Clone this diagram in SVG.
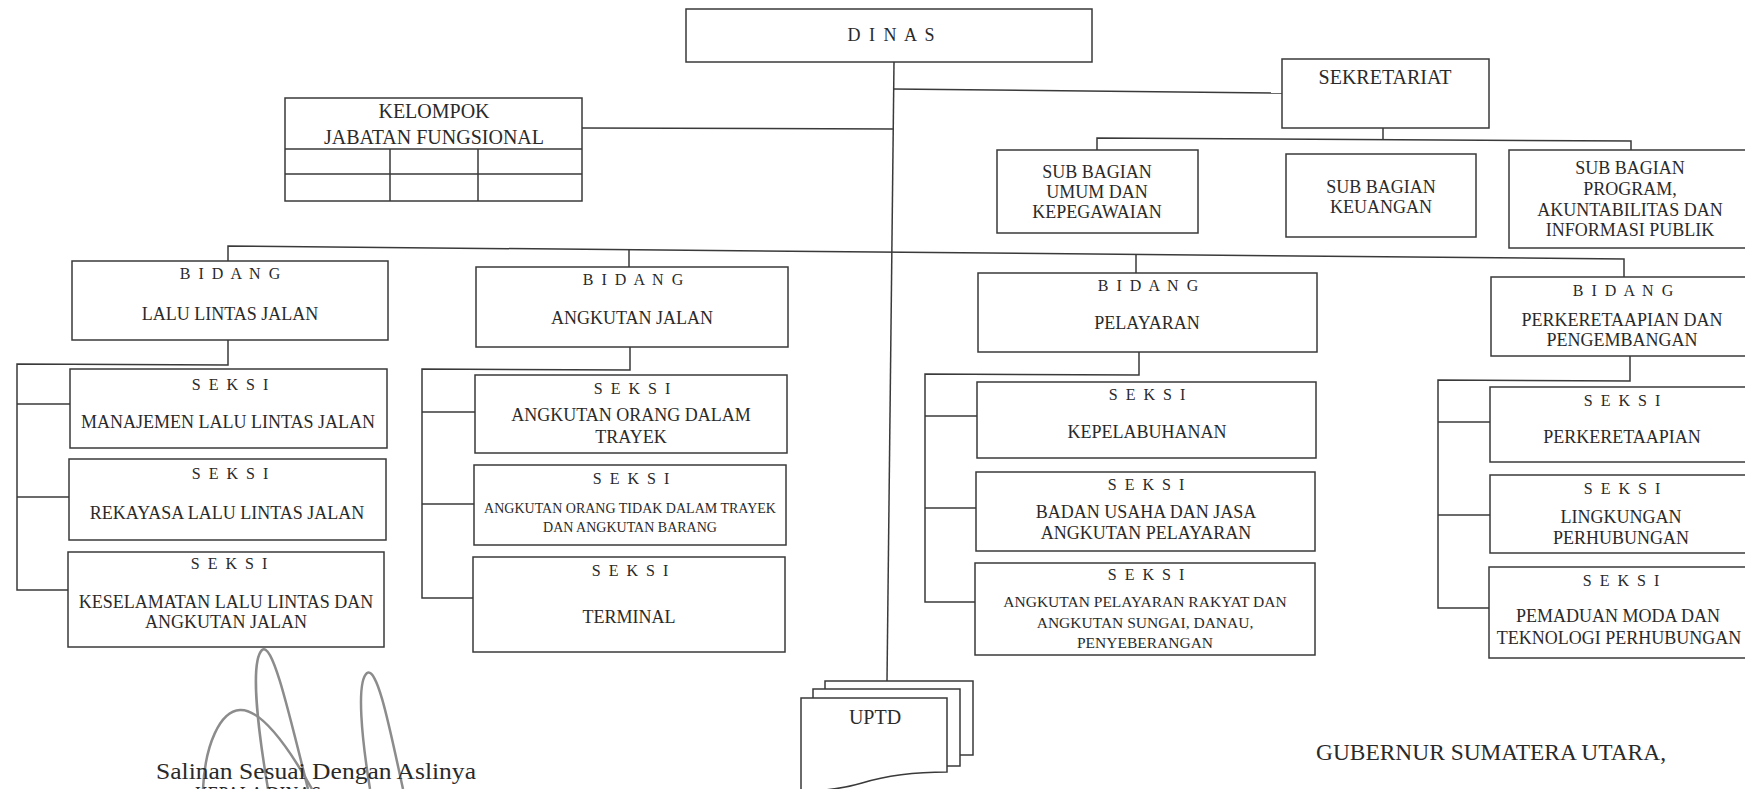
<svg xmlns="http://www.w3.org/2000/svg" width="1745" height="789" viewBox="0 0 1745 789">
<style>
.b{fill:#fff;stroke:#3a3a3a;stroke-width:1.5}
.c{fill:none;stroke:#3a3a3a;stroke-width:1.5}
.t{font-family:"Liberation Serif",serif;fill:#2a2a2a;text-anchor:middle;font-size:18px}
.s{font-size:16px;letter-spacing:2px}
.h{font-size:20px}
.sm{font-size:14px}
.md{font-size:15.5px}
.sig{fill:none;stroke:#8c8c8c;stroke-width:2.5}
.n{font-family:"Liberation Serif",serif;fill:#2a2a2a;font-size:23px}
</style>
<rect width="1745" height="789" fill="#fff"/>

<g id="connectors" class="c">
  <path d="M894,62 L887,681"/>
  <path d="M582,128 L893,129"/>
  <path d="M893,89 L1282,93"/>
  <path d="M1383,128 V140"/>
  <path d="M1097,150 V138 L1631,141 V150"/>
  <path d="M228,261 V246 L1624,259 V277"/>
  <path d="M629,249 V267"/>
  <path d="M1136,254 V273"/>
  <path d="M228,340 V365 L17,364 V590 H68"/>
  <path d="M17,404 H70"/>
  <path d="M17,497 H69"/>
  <path d="M630,347 V370 L422,369 V598 H473"/>
  <path d="M422,412 H475"/>
  <path d="M422,504 H474"/>
  <path d="M1139,352 V375 L925,374 V602 H975"/>
  <path d="M925,416 H977"/>
  <path d="M925,508 H976"/>
  <path d="M1630,356 V381 L1438,380 V608 H1489"/>
  <path d="M1438,422 H1490"/>
  <path d="M1438,515 H1490"/>
</g>

<g id="dinas">
  <rect class="b" x="686" y="9" width="406" height="53"/>
  <text class="t s" x="892" y="41" style="font-size:18px">D I N A S</text>
</g>

<g id="kelompok">
  <rect class="b" x="285" y="98" width="297" height="103"/>
  <path class="c" d="M285,149 H582 M285,174 H582 M390,149 V201 M478,149 V201"/>
  <text class="t h" x="434" y="118">KELOMPOK</text>
  <text class="t h" x="434" y="144">JABATAN FUNGSIONAL</text>
</g>

<g id="sekretariat">
  <rect class="b" x="1282" y="59" width="207" height="69"/>
  <text class="t h" x="1385" y="84">SEKRETARIAT</text>
</g>

<g id="sub-umum">
  <rect class="b" x="997" y="150" width="201" height="83"/>
  <text class="t" x="1097" y="178">SUB BAGIAN</text>
  <text class="t" x="1097" y="198">UMUM DAN</text>
  <text class="t" x="1097" y="218">KEPEGAWAIAN</text>
</g>

<g id="sub-keuangan">
  <rect class="b" x="1286" y="154" width="190" height="83"/>
  <text class="t" x="1381" y="193">SUB BAGIAN</text>
  <text class="t" x="1381" y="213">KEUANGAN</text>
</g>

<g id="sub-program">
  <rect class="b" x="1509" y="150" width="245" height="98"/>
  <text class="t" x="1630" y="174">SUB BAGIAN</text>
  <text class="t" x="1630" y="195">PROGRAM,</text>
  <text class="t" x="1630" y="216">AKUNTABILITAS DAN</text>
  <text class="t" x="1630" y="236">INFORMASI PUBLIK</text>
</g>

<g id="bidang-llj">
  <rect class="b" x="72" y="261" width="316" height="79"/>
  <text class="t s" x="231" y="279">B I D A N G</text>
  <text class="t" x="230" y="320">LALU LINTAS JALAN</text>
</g>
<g id="seksi-llj-1">
  <rect class="b" x="70" y="369" width="317" height="79"/>
  <text class="t s" x="231" y="390">S E K S I</text>
  <text class="t" x="228" y="428">MANAJEMEN LALU LINTAS JALAN</text>
</g>
<g id="seksi-llj-2">
  <rect class="b" x="69" y="459" width="317" height="81"/>
  <text class="t s" x="231" y="479">S E K S I</text>
  <text class="t" x="227" y="519">REKAYASA LALU LINTAS JALAN</text>
</g>
<g id="seksi-llj-3">
  <rect class="b" x="68" y="552" width="316" height="95"/>
  <text class="t s" x="230" y="569">S E K S I</text>
  <text class="t" x="226" y="608">KESELAMATAN LALU LINTAS DAN</text>
  <text class="t" x="226" y="628">ANGKUTAN JALAN</text>
</g>

<g id="bidang-aj">
  <rect class="b" x="476" y="267" width="312" height="80"/>
  <text class="t s" x="634" y="285">B I D A N G</text>
  <text class="t" x="632" y="324">ANGKUTAN JALAN</text>
</g>
<g id="seksi-aj-1">
  <rect class="b" x="475" y="375" width="312" height="78"/>
  <text class="t s" x="633" y="394">S E K S I</text>
  <text class="t" x="631" y="421">ANGKUTAN ORANG DALAM</text>
  <text class="t" x="631" y="443">TRAYEK</text>
</g>
<g id="seksi-aj-2">
  <rect class="b" x="474" y="465" width="312" height="80"/>
  <text class="t s" x="632" y="484">S E K S I</text>
  <text class="t sm" x="630" y="513">ANGKUTAN ORANG TIDAK DALAM TRAYEK</text>
  <text class="t sm" x="630" y="532">DAN ANGKUTAN BARANG</text>
</g>
<g id="seksi-aj-3">
  <rect class="b" x="473" y="557" width="312" height="95"/>
  <text class="t s" x="631" y="576">S E K S I</text>
  <text class="t" x="629" y="623">TERMINAL</text>
</g>

<g id="bidang-pel">
  <rect class="b" x="978" y="273" width="339" height="79"/>
  <text class="t s" x="1149" y="291">B I D A N G</text>
  <text class="t" x="1147" y="329">PELAYARAN</text>
</g>
<g id="seksi-pel-1">
  <rect class="b" x="977" y="382" width="339" height="76"/>
  <text class="t s" x="1148" y="400">S E K S I</text>
  <text class="t" x="1147" y="438">KEPELABUHANAN</text>
</g>
<g id="seksi-pel-2">
  <rect class="b" x="976" y="472" width="339" height="79"/>
  <text class="t s" x="1147" y="490">S E K S I</text>
  <text class="t" x="1146" y="518">BADAN USAHA DAN JASA</text>
  <text class="t" x="1146" y="539">ANGKUTAN PELAYARAN</text>
</g>
<g id="seksi-pel-3">
  <rect class="b" x="975" y="563" width="340" height="92"/>
  <text class="t s" x="1147" y="580">S E K S I</text>
  <text class="t md" x="1145" y="607">ANGKUTAN PELAYARAN RAKYAT DAN</text>
  <text class="t md" x="1145" y="628">ANGKUTAN SUNGAI, DANAU,</text>
  <text class="t md" x="1145" y="648">PENYEBERANGAN</text>
</g>

<g id="bidang-kai">
  <rect class="b" x="1491" y="277" width="265" height="79"/>
  <text class="t s" x="1624" y="296">B I D A N G</text>
  <text class="t" x="1622" y="326">PERKERETAAPIAN DAN</text>
  <text class="t" x="1622" y="346">PENGEMBANGAN</text>
</g>
<g id="seksi-kai-1">
  <rect class="b" x="1490" y="387" width="266" height="75"/>
  <text class="t s" x="1623" y="406">S E K S I</text>
  <text class="t" x="1622" y="443">PERKERETAAPIAN</text>
</g>
<g id="seksi-kai-2">
  <rect class="b" x="1490" y="475" width="266" height="78"/>
  <text class="t s" x="1623" y="494">S E K S I</text>
  <text class="t" x="1621" y="523">LINGKUNGAN</text>
  <text class="t" x="1621" y="544">PERHUBUNGAN</text>
</g>
<g id="seksi-kai-3">
  <rect class="b" x="1489" y="567" width="267" height="91"/>
  <text class="t s" x="1622" y="586">S E K S I</text>
  <text class="t" x="1618" y="622">PEMADUAN MODA DAN</text>
  <text class="t" x="1619" y="644">TEKNOLOGI PERHUBUNGAN</text>
</g>

<g id="uptd">
  <path class="b" d="M825,681 H973 V755 H825 Z"/>
  <path class="b" d="M813,689 H960 V766 H813 Z"/>
  <path class="b" d="M801,698 H947 V772 C915,772 888,775 862,783 C842,789 822,791 801,791 Z"/>
  <text class="t h" x="875" y="724">UPTD</text>
</g>

<g id="signature">
  <path class="sig" d="M268,789 C258,730 250,662 262,650 C272,642 286,700 308,789"/>
  <path class="sig" d="M370,789 C362,740 356,682 367,673 C378,667 390,730 403,789"/>
  <path class="sig" d="M203,789 C205,745 220,711 240,710 C262,709 290,750 312,789"/>
</g>

<g id="footer">
  <text class="n" x="156" y="779" textLength="320" lengthAdjust="spacingAndGlyphs">Salinan Sesuai Dengan Aslinya</text>
  <text class="n" x="195" y="802" textLength="126" lengthAdjust="spacingAndGlyphs">KEPALA DINAS</text>
  <text class="n" x="1316" y="760" textLength="350" lengthAdjust="spacingAndGlyphs">GUBERNUR SUMATERA UTARA,</text>
</g>
</svg>
